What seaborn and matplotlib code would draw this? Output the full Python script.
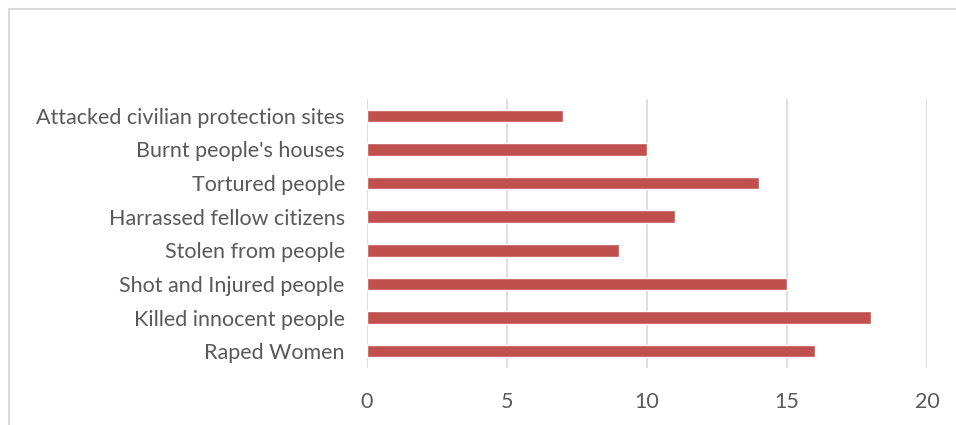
import matplotlib
matplotlib.use("Agg")
import matplotlib.pyplot as plt
import seaborn as sns
import pandas as pd
from matplotlib.lines import Line2D

# Survey responses: reported abuses and number of respondents
categories = [
    "Attacked civilian protection sites",
    "Burnt people's houses",
    "Tortured people",
    "Harrassed fellow citizens",
    "Stolen from people",
    "Shot and Injured people",
    "Killed innocent people",
    "Raped Women",
]
counts = [7, 10, 14, 11, 9, 15, 18, 16]
x_ticks = [0, 5, 10, 15, 20]

df = pd.DataFrame({"category": categories, "count": counts})

sns.set_theme(style="white")
plt.rcParams["font.family"] = ["Lato", "DejaVu Sans"]

W, H = 956, 425
fig = plt.figure(figsize=(W / 100, H / 100), dpi=100)
ax = fig.add_axes([367 / W, 1 - 368 / H, (927 - 367) / W, (368 - 99) / H])

sns.barplot(data=df, x="count", y="category", order=categories, orient="h",
            color="#C0504D", saturation=1, width=0.37, ax=ax)

ax.set_xlim(0, 20)
ax.set_ylim(len(categories) - 0.5, -0.5)
ax.set_xticks(x_ticks)
ax.set_xticklabels([str(t) for t in x_ticks])
ax.xaxis.grid(True, color="#D9D9D9", linewidth=1.2)
ax.set_axisbelow(True)
for s in ax.spines.values():
    s.set_visible(False)
ax.set_xlabel("")
ax.set_ylabel("")
ax.tick_params(axis="both", length=0, labelsize=15.5, colors="#595959")
ax.tick_params(axis="x", pad=17)
ax.tick_params(axis="y", pad=16)

# light frame along the top and left edges of the chart area
fig.add_artist(Line2D([9 / W, 9 / W], [0, 1 - 9 / H], transform=fig.transFigure,
                      color="#D9D9D9", linewidth=1.5))
fig.add_artist(Line2D([9 / W, 1], [1 - 9 / H, 1 - 9 / H], transform=fig.transFigure,
                      color="#D9D9D9", linewidth=1.5))

fig.savefig("out.png", dpi=100)
